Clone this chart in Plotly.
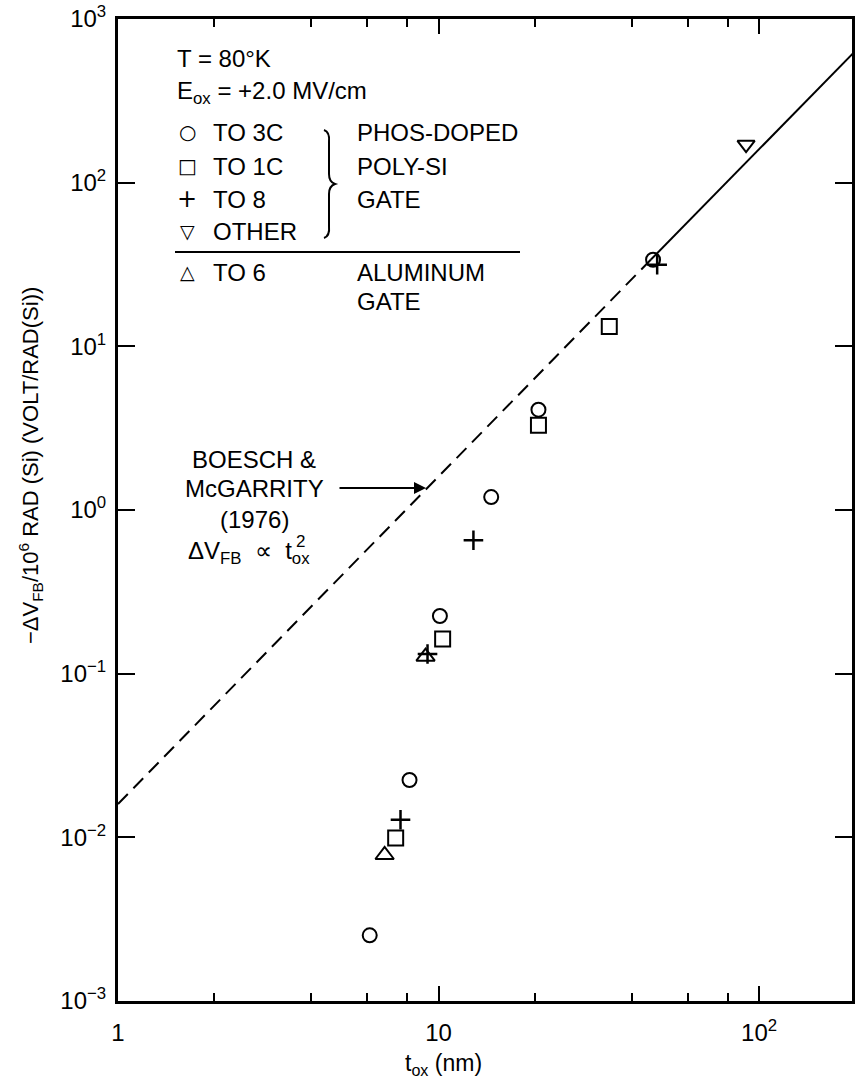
import plotly.graph_objects as go

# ---- data ----
to3c_x = [46.7, 20.5, 14.6, 10.1, 8.12, 6.1]
to3c_y = [33.8, 4.1, 1.2, 0.225, 0.0224, 0.00252]

to1c_x = [34.1, 20.5, 10.3, 7.35]
to1c_y = [13.2, 3.3, 0.163, 0.0099]

to8_x = [48.1, 12.85, 9.24, 7.61]
to8_y = [31.5, 0.653, 0.132, 0.0128]

other_x = [91.1]
other_y = [171]

to6_x = [9.11, 6.79]
to6_y = [0.127, 0.0078]

fit_dash_x = [1, 46]
fit_dash_y = [0.016, 33.9]
fit_solid_x = [46, 200]
fit_solid_y = [33.9, 640]

x_tickvals = [1, 10, 100]
x_ticktext = ["1", "10", "10<sup>2</sup>"]
x_minor = [2, 4, 6, 8, 20, 40, 60, 80]
y_tickvals = [1e-3, 1e-2, 1e-1, 1, 10, 100, 1000]
y_ticktext = ["10<sup>\u22123</sup>", "10<sup>\u22122</sup>", "10<sup>\u22121</sup>",
              "10<sup>0</sup>", "10<sup>1</sup>", "10<sup>2</sup>", "10<sup>3</sup>"]

W, H = 856, 1088
L, R, T, B = 118, 852, 19, 1001
FONT = "Liberation Sans, Arial, Helvetica, sans-serif"


def px(xp):
    return (xp - L) / (R - L)


def py(yp):
    return (B - yp) / (B - T)


fig = go.Figure()
fig.add_trace(go.Scatter(x=fit_dash_x, y=fit_dash_y, mode="lines",
                         line=dict(color="black", width=2, dash="14px,8px"), showlegend=False))
fig.add_trace(go.Scatter(x=fit_solid_x, y=fit_solid_y, mode="lines",
                         line=dict(color="black", width=2), showlegend=False))

mk = dict(color="black", width=2)
fig.add_trace(go.Scatter(x=to3c_x, y=to3c_y, mode="markers", name="TO 3C",
                         marker=dict(symbol="circle-open", size=14, color="black", line=mk)))
fig.add_trace(go.Scatter(x=to1c_x, y=to1c_y, mode="markers", name="TO 1C",
                         marker=dict(symbol="square-open", size=15, color="black", line=mk)))
fig.add_trace(go.Scatter(x=to8_x, y=to8_y, mode="markers", name="TO 8",
                         marker=dict(symbol="cross-thin-open", size=14, color="black",
                                     line=dict(color="black", width=2.5))))
fig.add_trace(go.Scatter(x=other_x, y=other_y, mode="markers", name="OTHER",
                         marker=dict(symbol="triangle-down-open", size=15, color="black", line=mk)))
fig.add_trace(go.Scatter(x=to6_x, y=to6_y, mode="markers", name="TO 6",
                         marker=dict(symbol="triangle-up-open", size=16, color="black", line=mk)))

axis_common = dict(type="log", showgrid=False, zeroline=False, showline=True,
                   linecolor="black", linewidth=3, mirror="ticks", ticks="inside",
                   tickcolor="black", tickwidth=2, automargin=False,
                   tickfont=dict(family=FONT, size=24, color="black"))

fig.update_xaxes(**axis_common, range=[0, 2.29], tickmode="array",
                 tickvals=x_tickvals, ticktext=x_ticktext, ticklen=15,
                 ticklabelstandoff=8,
                 minor=dict(tickmode="array", tickvals=x_minor, ticks="inside",
                            ticklen=8, tickwidth=2, tickcolor="black", showgrid=False))
fig.update_yaxes(**axis_common, range=[-3, 3], tickmode="array",
                 tickvals=y_tickvals, ticktext=y_ticktext, ticklen=17,
                 ticklabelstandoff=4)

ann = []


def text(x, y, s, size=24, xanchor="left", family=FONT):
    ann.append(dict(x=px(x), y=py(y), xref="paper", yref="paper", text=s,
                    showarrow=False, xanchor=xanchor, yanchor="middle",
                    font=dict(family=family, size=size, color="black")))


text(175, 59, "T = 80\u00b0K")
text(175, 92, "E<sub>ox</sub> = +2.0 MV/cm")
sym_font = "DejaVu Sans, sans-serif"
for yy, sym, lab, sz in [(132, "\u25cb", "TO 3C", 20), (166, "\u25a1", "TO 1C", 20),
                         (199, "+", "TO 8", 24), (231, "\u25bd", "OTHER", 19),
                         (272, "\u25b3", "TO 6", 19)]:
    text(187, yy, sym, size=sz, xanchor="center", family=sym_font)
    text(211, yy, lab)
text(355, 132, "PHOS-DOPED")
text(355, 166, "POLY-SI")
text(355, 199, "GATE")
text(355, 272, "ALUMINUM")
text(355, 302, "GATE")

text(254, 459, "BOESCH &amp;", xanchor="center")
text(254, 488, "McGARRITY", xanchor="center")
text(254, 519, "(1976)", xanchor="center")
text(186, 552, "\u0394V<sub>FB</sub>\u00a0\u00a0\u221d\u00a0\u00a0t<sub>ox</sub>")
text(300, 541, "2", size=17, xanchor="center")

# arrow
ann.append(dict(x=px(426), y=py(488), xref="paper", yref="paper", text="",
                showarrow=True, ax=-88, ay=0, axref="pixel", ayref="pixel",
                arrowhead=2, arrowsize=1.2, arrowwidth=2, arrowcolor="black"))

# axis titles
ann.append(dict(x=px(443), y=py(1064), xref="paper", yref="paper",
                text="t<sub>ox</sub> (nm)", showarrow=False, xanchor="center", yanchor="middle",
                font=dict(family=FONT, size=23, color="black")))
ann.append(dict(x=px(31), y=py(466), xref="paper", yref="paper", textangle=-90,
                text="\u2212\u0394V<sub>FB</sub>/10<sup>6</sup> RAD (Si) (VOLT/RAD(Si))",
                showarrow=False, xanchor="center", yanchor="middle",
                font=dict(family=FONT, size=22, color="black")))

shapes = [
    dict(type="line", xref="paper", yref="paper", x0=px(175), x1=px(520), y0=py(252), y1=py(252),
         line=dict(color="black", width=2)),
]
# curly brace
bx = lambda v: px(v)
by = lambda v: py(v)
path = (f"M {bx(324)},{by(130)} Q {bx(330)},{by(132)} {bx(329)},{by(142)} "
        f"L {bx(329)},{by(174)} Q {bx(329)},{by(182)} {bx(335)},{by(184)} "
        f"Q {bx(329)},{by(186)} {bx(329)},{by(194)} "
        f"L {bx(329)},{by(226)} Q {bx(330)},{by(236)} {bx(324)},{by(238)}")
shapes.append(dict(type="path", xref="paper", yref="paper", path=path,
                   line=dict(color="black", width=2)))

fig.update_layout(width=W, height=H, margin=dict(l=L, r=W - R, t=T, b=H - B, autoexpand=False),
                  paper_bgcolor="white", plot_bgcolor="white", showlegend=False,
                  annotations=ann, shapes=shapes)

fig.write_html("out.html", config={"displayModeBar": False},
               post_script="document.body.style.margin='0';document.body.style.overflow='hidden';")
